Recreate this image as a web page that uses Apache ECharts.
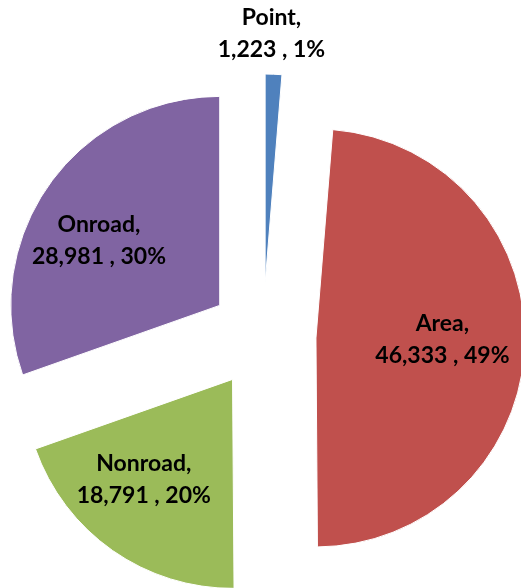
<!DOCTYPE html>
<html>
<head>
<meta charset="utf-8">
<script src="https://cdn.jsdelivr.net/npm/echarts@6/dist/echarts.min.js"></script>
<style>
  html, body { margin: 0; padding: 0; background: #fff; }
  #chart { width: 521px; height: 588px; }
</style>
</head>
<body>
<div id="chart"></div>
<script>
  // emissions by source sector
  const categories = ['Point', 'Area', 'Nonroad', 'Onroad'];
  const values = [1223, 46333, 18791, 28981];
  const percents = ['1%', '49%', '20%', '30%'];
  const colors = ['#4F81BD', '#C0504D', '#9BBB59', '#8064A2'];

  // nudge labels from the default inside spot to where Excel put them
  const labelShift = [[2, -142], [19, -2], [-27, 12], [-33, -3]];

  const chart = echarts.init(document.getElementById('chart'));

  chart.setOption({
    animation: false,
    series: [
      {
        type: 'pie',
        center: [263, 336],
        radius: [0, 209],
        startAngle: 90,
        clockwise: true,
        selectedMode: 'multiple',
        selectedOffset: 53,
        avoidLabelOverlap: false,
        itemStyle: { borderColor: '#fff', borderWidth: 1 },
        select: { itemStyle: { borderColor: '#fff', borderWidth: 1 } },
        emphasis: { scale: false },
        label: {
          show: true,
          position: 'inside',
          color: '#000',
          fontFamily: 'Lato',
          fontWeight: 'bold',
          fontSize: 23,
          lineHeight: 32,
          formatter: p => p.name + ',\n' + p.value.toLocaleString('en-US') + ' , ' + percents[p.dataIndex]
        },
        labelLine: { show: false },
        labelLayout: p => ({ dx: labelShift[p.dataIndex][0], dy: labelShift[p.dataIndex][1] }),
        data: categories.map((c, i) => ({
          name: c,
          value: values[i],
          selected: true,
          itemStyle: { color: colors[i] }
        }))
      }
    ]
  });
</script>
</body>
</html>
